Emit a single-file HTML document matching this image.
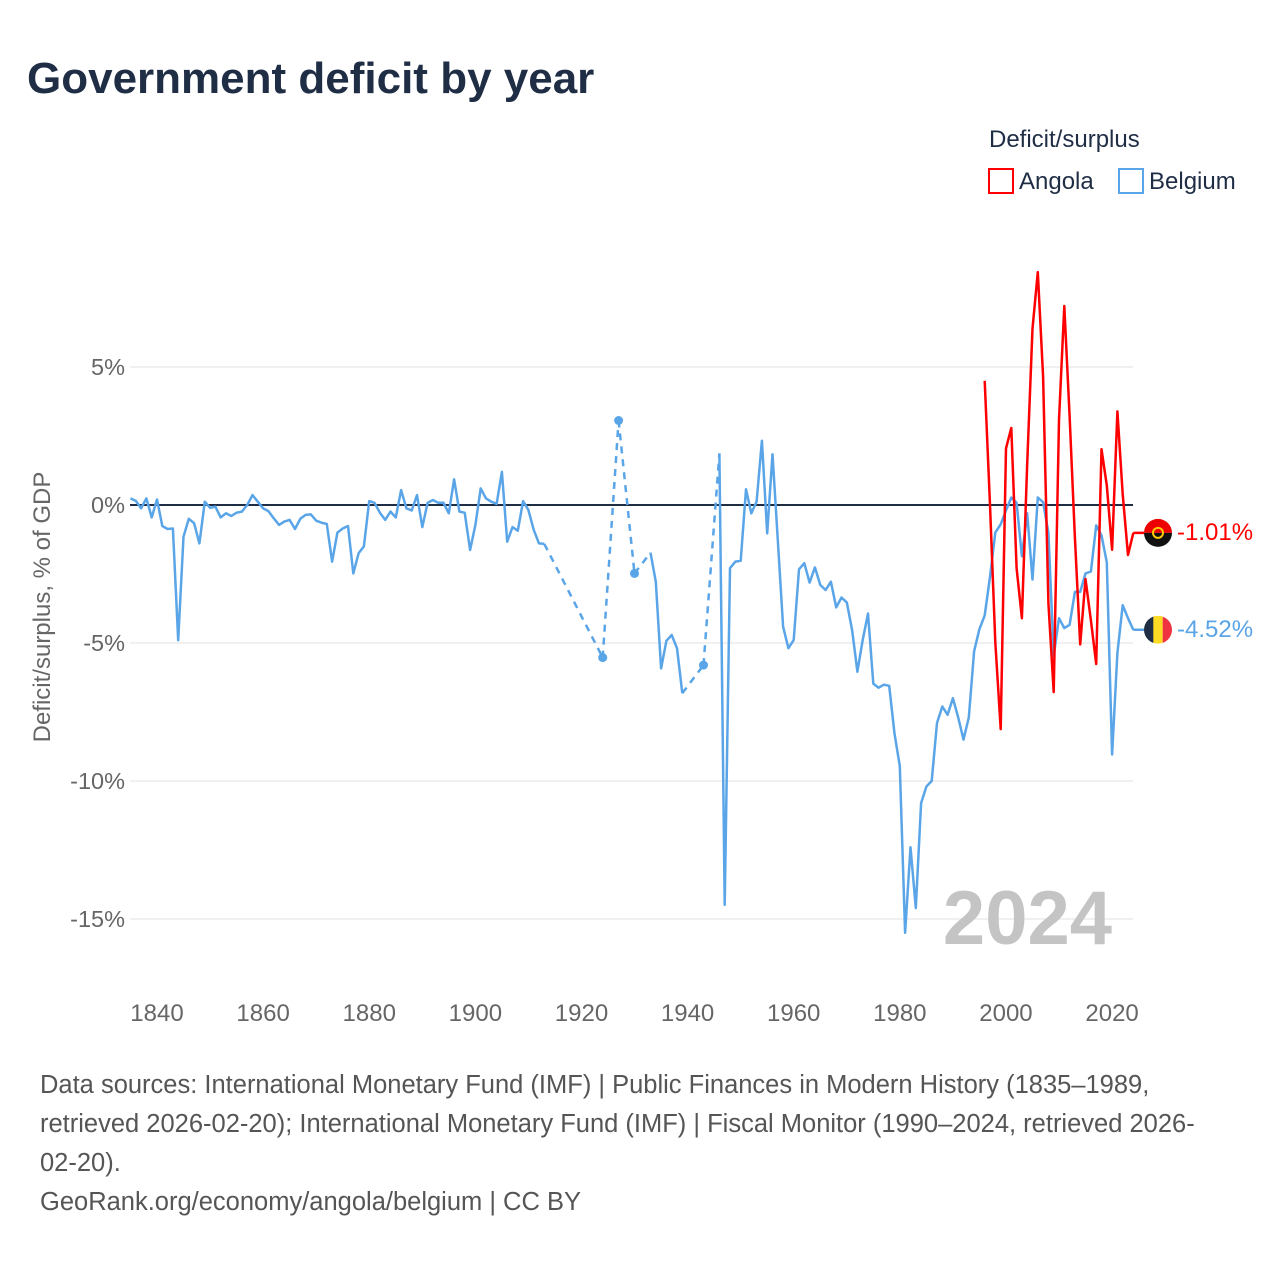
<!DOCTYPE html>
<html><head><meta charset="utf-8"><style>
body{margin:0;background:#fff;font-family:"Liberation Sans",sans-serif;}
#wrap{position:relative;width:1280px;height:1280px;overflow:hidden;}
</style></head><body>
<div id="wrap">
<svg id="chart" width="1280" height="1280" xmlns="http://www.w3.org/2000/svg">
<text x="27" y="93" font-size="44" font-weight="bold" fill="#1f2d45">Government deficit by year</text>
<text x="989" y="147" font-size="24" fill="#1f2d45">Deficit/surplus</text>
<g><rect x="989" y="169" width="24" height="24" fill="none" stroke="#ff0000" stroke-width="2"/><text x="1019" y="189" font-size="24" fill="#1f2d45">Angola</text></g>
<g><rect x="1119" y="169" width="24" height="24" fill="none" stroke="#5aa5e8" stroke-width="2"/><text x="1149" y="189" font-size="24" fill="#1f2d45">Belgium</text></g>
<text transform="translate(50,607) rotate(-90)" text-anchor="middle" font-size="24" fill="#666">Deficit/surplus, % of GDP</text>
<g id="grid"></g><g id="xt"></g>
<text x="1112" y="944" text-anchor="end" font-size="76" font-weight="bold" fill="#c4c4c4">2024</text>
<g id="series"></g>
<text x="40" y="1093" font-size="25.5" fill="#555">Data sources: International Monetary Fund (IMF) | Public Finances in Modern History (1835–1989,</text>
<text x="40" y="1132" font-size="25.5" fill="#555">retrieved 2026-02-20); International Monetary Fund (IMF) | Fiscal Monitor (1990–2024, retrieved 2026-</text>
<text x="40" y="1171" font-size="25.5" fill="#555">02-20).</text>
<text x="40" y="1210" font-size="25.5" fill="#555">GeoRank.org/economy/angola/belgium | CC BY</text>
</svg></div>
<script>
const yTicks=[5,0,-5,-10,-15];
const yTickLabels=["5%","0%","-5%","-10%","-15%"];
const xTicks=[1840,1860,1880,1900,1920,1940,1960,1980,2000,2020];
const belgiumYears=[];
for(let y=1835;y<=1913;y++)belgiumYears.push(y);
belgiumYears.push(1924,1927,1930);
for(let y=1933;y<=1939;y++)belgiumYears.push(y);
belgiumYears.push(1943);
for(let y=1946;y<=2024;y++)belgiumYears.push(y);
const belgiumValues=[0.24,0.15,-0.12,0.24,-0.45,0.2,-0.76,-0.87,-0.85,-4.9,-1.15,-0.5,-0.66,-1.39,0.12,-0.1,-0.06,-0.45,-0.3,-0.4,-0.28,-0.24,0,0.36,0.12,-0.12,-0.22,-0.48,-0.72,-0.6,-0.54,-0.87,-0.5,-0.36,-0.34,-0.57,-0.64,-0.69,-2.05,-1.0,-0.85,-0.76,-2.48,-1.75,-1.5,0.14,0.08,-0.28,-0.54,-0.24,-0.45,0.54,-0.12,-0.2,0.36,-0.8,0.08,0.18,0.08,0.08,-0.3,0.93,-0.24,-0.28,-1.63,-0.72,0.6,0.24,0.12,0.04,1.2,-1.33,-0.8,-0.93,0.14,-0.18,-0.9,-1.39,-1.41,
-5.53,3.06,-2.48,
-1.73,-2.78,-5.92,-4.92,-4.71,-5.19,-6.82,
-5.8,
1.87,-14.49,-2.29,-2.05,-2.02,0.57,-0.3,0.12,2.33,-1.03,1.84,-1.27,-4.41,-5.19,-4.89,-2.33,-2.11,-2.81,-2.26,-2.9,-3.08,-2.78,-3.71,-3.35,-3.53,-4.53,-6.04,-4.89,-3.93,-6.47,-6.62,-6.51,-6.55,-8.28,-9.46,-15.5,-12.4,-14.6,-10.8,-10.2,-10.0,-7.9,-7.3,-7.6,-7.0,-7.7,-8.5,-7.7,-5.3,-4.5,-4.0,-2.6,-1.0,-0.7,-0.2,0.27,0.08,-1.86,-0.3,-2.7,0.27,0.1,-1.0,-5.47,-4.1,-4.46,-4.34,-3.15,-3.15,-2.48,-2.41,-0.74,-1.1,-2.08,-9.04,-5.36,-3.63,-4.1,-4.52];
const angolaYears=[];
for(let y=1996;y<=2024;y++)angolaYears.push(y);
const angolaValues=[4.5,0.0,-4.97,-8.12,2.05,2.79,-2.29,-4.1,1.5,6.39,8.44,4.65,-3.55,-6.78,3.08,7.21,3.23,-1.18,-5.05,-2.68,-4.18,-5.76,2.02,0.71,-1.62,3.39,0.39,-1.81,-1.01];

const NS="http://www.w3.org/2000/svg";
const X=yr=>157+(yr-1840)*5.306;
const Y=v=>505-v*27.6;
function mk(tag,attrs,parent){const e=document.createElementNS(NS,tag);for(const k in attrs)e.setAttribute(k,attrs[k]);parent.appendChild(e);return e;}
const grid=document.getElementById('grid');
yTicks.forEach((t,i)=>{
  const l=mk('line',{x1:130,x2:1133,y1:Y(t),y2:Y(t),stroke:t===0?'#1f2d45':'#ebebeb','stroke-width':t===0?2:1.5},grid);
  
  
  const tx=mk('text',{x:125,y:Y(t)+8,'text-anchor':'end','font-size':23.5,fill:'#666'},grid);
  tx.textContent=yTickLabels[i];
  
  
});
const xt=document.getElementById('xt');
xTicks.forEach(t=>{
  const tx=mk('text',{x:X(t),y:1021,'text-anchor':'middle','font-size':24,fill:'#666'},xt);
  tx.textContent=t;
  
  
});
const ser=document.getElementById('series');
function drawSeries(years,vals,color,name){
  const g=mk('g',{},ser);
  
  
  let d='',dd='';
  for(let i=0;i<years.length;i++){
    const px=X(years[i]).toFixed(1),py=Y(vals[i]).toFixed(1);
    if(i===0||years[i]-years[i-1]>1){d+='M'+px+' '+py;}
    else d+='L'+px+' '+py;
    if(i>0&&years[i]-years[i-1]>1)dd+='M'+X(years[i-1]).toFixed(1)+' '+Y(vals[i-1]).toFixed(1)+'L'+px+' '+py;
    const prevC=i>0&&years[i]-years[i-1]===1, nextC=i<years.length-1&&years[i+1]-years[i]===1;
    if(!prevC&&!nextC){const c=mk('circle',{cx:px,cy:py,r:4.5,fill:color},g);
      
      }
  }
  if(dd){const p=mk('path',{d:dd,fill:'none',stroke:color,'stroke-width':2.5,'stroke-dasharray':'7,6'},g);
    
    }
  const p=mk('path',{d:d,fill:'none',stroke:color,'stroke-width':2.5,'stroke-linejoin':'round'},g);
  
  
  return g;
}
drawSeries(belgiumYears,belgiumValues,'#5aa5e8','belgium');
drawSeries(angolaYears,angolaValues,'#ff0000','angola');
function endMarker(years,vals,color,name,flag){
  const last=vals[vals.length-1],px=X(years[years.length-1]),py=Y(last);
  const l=mk('line',{x1:px,y1:py,x2:1144,y2:py,stroke:color,'stroke-width':2.5},ser);
  
  
  const g=mk('g',{},ser);
  
  
  const cx=1158;
  if(flag==='ao'){
    mk('path',{d:`M${cx-14} ${py}A14 14 0 0 1 ${cx+14} ${py}Z`,fill:'#e00'},g);
    mk('path',{d:`M${cx-14} ${py}A14 14 0 0 0 ${cx+14} ${py}Z`,fill:'#111'},g);
    mk('circle',{cx:cx,cy:py,r:5,fill:'none',stroke:'#fc0','stroke-width':2},g);
  }else{
    mk('clipPath',{id:'bc'},g).appendChild(document.createElementNS(NS,'circle')).setAttribute('r',14);
    const cp=g.querySelector('clipPath circle');cp.setAttribute('cx',cx);cp.setAttribute('cy',py);
    mk('rect',{x:cx-14,y:py-14,width:10,height:28,fill:'#1f2d45','clip-path':'url(#bc)'},g);
    mk('rect',{x:cx-4.7,y:py-14,width:9.4,height:28,fill:'#fdda24','clip-path':'url(#bc)'},g);
    mk('rect',{x:cx+4.7,y:py-14,width:10,height:28,fill:'#ef3340','clip-path':'url(#bc)'},g);
  }
  const t=mk('text',{x:1177,y:py+7,'font-size':24,fill:color},ser);
  t.textContent=last.toFixed(2)+'%';
  
  
}
endMarker(angolaYears,angolaValues,'#ff0000','angola','ao');
endMarker(belgiumYears,belgiumValues,'#5aa5e8','belgium','be');
</script>
</body></html>
